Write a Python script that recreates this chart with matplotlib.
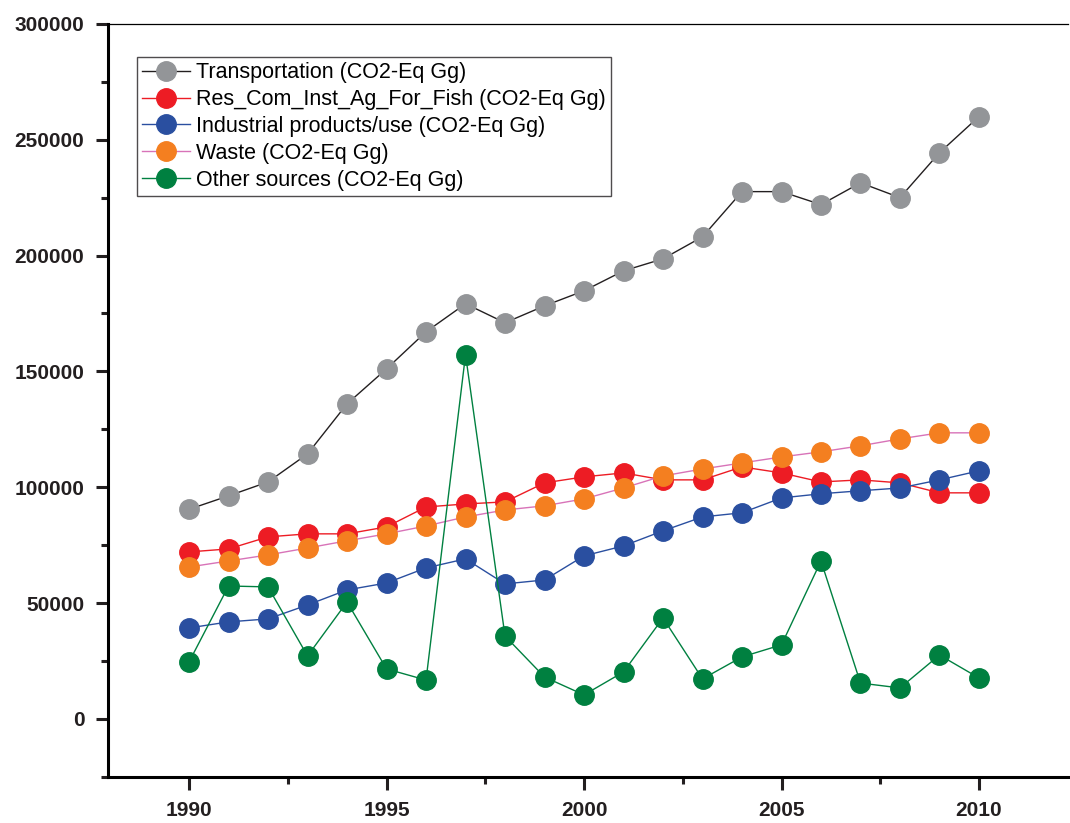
import matplotlib.pyplot as plt
from matplotlib.ticker import MultipleLocator

plt.rcParams['font.family'] = ['Liberation Sans', 'DejaVu Sans']

years = list(range(1990, 2011))

transport = [90500, 96300, 102300, 114400, 136000, 151100, 167100, 179200, 171000, 178300,
             184800, 193400, 198600, 208100, 227600, 227600, 222000, 231400, 225000, 244400, 260000]
res_com = [72100, 73400, 78600, 79900, 79900, 82900, 91500, 92800, 93700, 101900,
           104500, 106200, 103200, 103200, 108800, 106200, 102300, 103200, 101900, 97600, 97600]
industrial = [39300, 41900, 43200, 49200, 55700, 58700, 65200, 69100, 58300, 60000,
              70400, 74700, 81200, 87200, 89000, 95400, 97200, 98500, 99700, 103200, 107100]
waste = [65600, 68200, 70800, 73800, 76900, 79900, 83300, 87200, 90200, 92000,
         95000, 99700, 104900, 107900, 110500, 113100, 115300, 117900, 120900, 123500, 123500]
other = [24600, 57400, 57000, 27200, 50500, 21600, 16800, 157200, 35800, 18100,
         10400, 20300, 43600, 17300, 26800, 32000, 68200, 15500, 13400, 27600, 17700]

labels = ["Transportation (CO2-Eq Gg)",
          "Res_Com_Inst_Ag_For_Fish (CO2-Eq Gg)",
          "Industrial products/use (CO2-Eq Gg)",
          "Waste (CO2-Eq Gg)",
          "Other sources (CO2-Eq Gg)"]

fig = plt.figure(figsize=(10.7, 8.23), dpi=100)
ax = fig.add_axes([0.101, 0.056, 0.897, 0.915])

series = [
    (transport, '#939598', '#231f20'),
    (res_com, '#ed1c24', '#ed1c24'),
    (industrial, '#2a4fa0', '#2a4fa0'),
    (waste, '#f47f20', '#d873b8'),
    (other, '#008040', '#008040'),
]
for (vals, mc, lc), lab in zip(series, labels):
    ax.plot(years, vals, color=lc, linewidth=1.0, marker='o', markersize=14,
            markerfacecolor=mc, markeredgecolor=mc, label=lab)

ax.set_xlim(1987.95, 2012.25)
ax.set_ylim(-25000, 300000)

ax.xaxis.set_major_locator(MultipleLocator(5))
ax.xaxis.set_minor_locator(MultipleLocator(2.5))
ax.yaxis.set_major_locator(MultipleLocator(50000))
ax.yaxis.set_minor_locator(MultipleLocator(25000))

ax.spines['right'].set_visible(False)
ax.spines['top'].set_linewidth(0.9)
ax.spines['left'].set_linewidth(2.2)
ax.spines['bottom'].set_linewidth(2.2)

ax.tick_params(which='major', direction='out', length=9, width=2.2, labelsize=15, pad=8,
               colors='#231f20')
ax.tick_params(which='minor', direction='out', length=5, width=2.2, colors='#231f20')
for t in ax.get_xticklabels() + ax.get_yticklabels():
    t.set_fontweight('bold')

leg = ax.legend(loc='upper left', bbox_to_anchor=(0.03, 0.956), fontsize=15.5,
                frameon=True, fancybox=False, edgecolor='#231f20',
                handlelength=2.2, handletextpad=0.3, borderpad=0.25, labelspacing=0.27,
                borderaxespad=0)
leg.get_frame().set_linewidth(1.0)

fig.savefig('out.png', dpi=100)
